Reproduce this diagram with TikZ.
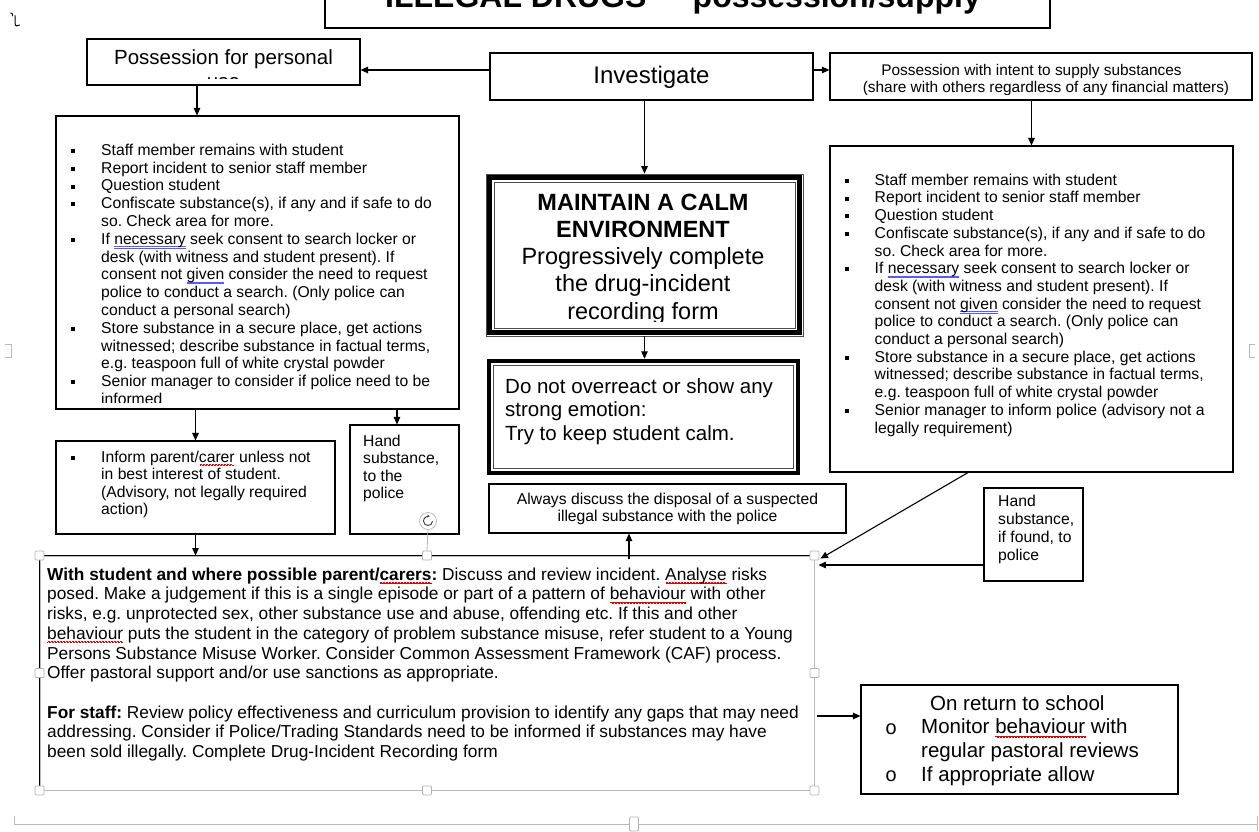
\documentclass[tikz,border=0pt]{standalone}
\usepackage{fontspec}
\setmainfont{Liberation Sans}
\newfontfamily\monofont{Liberation Mono}
\usetikzlibrary{arrows.meta}
\setlength{\unitlength}{1pt}
\frenchspacing

% spell-check style underlines
\newsavebox\ulbox
\newcommand\wavepiece{\begin{picture}(3,0)\linethickness{0.5pt}\qbezier(0,-2.6)(0.75,-1.4)(1.5,-2.6)\qbezier(1.5,-2.6)(2.25,-3.8)(3,-2.6)\end{picture}}
\newcommand\wavy[1]{\sbox\ulbox{#1}\rlap{\textcolor{red!90!black}{\hbox to \wd\ulbox{\cleaders\hbox{\wavepiece}\hfill}}}\usebox\ulbox}
\newcommand\dbl[1]{\sbox\ulbox{#1}\rlap{\textcolor{blue!65!white}{\rule[-2.4pt]{\wd\ulbox}{0.45pt}}}\rlap{\textcolor{blue!65!white}{\rule[-3.9pt]{\wd\ulbox}{0.45pt}}}\usebox\ulbox}

% list helpers
\newcommand\sqitem{\makebox[30pt][l]{\rule[2.3pt]{4pt}{4pt}}}
\newcommand\indline{\hspace*{30pt}}
\newcommand\topstrut{\rule{0pt}{1em}}
\newcommand\ringitem{\makebox[36pt][l]{\raisebox{-0.5pt}{\monofont\fontsize{20}{20}\selectfont o}}}

\newcommand\commonsteps{%
\topstrut\sqitem Staff member remains with student\\
\sqitem Report incident to senior staff member\\
\sqitem Question student\\
\sqitem Confiscate substance(s), if any and if safe to do\\
\indline so. Check area for more.\\
\sqitem If \dbl{necessary} seek consent to search locker or\\
\indline desk (with witness and student present). If\\
\indline consent not \dbl{given} consider the need to request\\
\indline police to conduct a search. (Only police can\\
\indline conduct a personal search)\\
\sqitem Store substance in a secure place, get actions\\
\indline witnessed; describe substance in factual terms,\\
\indline e.g. teaspoon full of white crystal powder\\}

\begin{document}
\begin{tikzpicture}[x=1pt, y=-1pt,
  box/.style={draw=black, line width=1.1pt, inner sep=0pt},
  arr/.style={line width=1.1pt, -{Triangle[length=7.5pt,width=6.5pt]}},
  txt/.style={inner sep=0pt, anchor=north west, align=left},
  handle/.style={draw=gray!60, fill=white, line width=0.7pt, minimum size=9pt, inner sep=0pt, rounded corners=1pt},
  frame/.style={draw=gray!55, line width=0.9pt}]
\useasboundingbox (0,0) rectangle (1259,831);

% heading
\node[box, minimum width=725, minimum height=48] (title) at (687.5,4) {};
\node[anchor=base, inner sep=0pt, font=\bfseries\fontsize{32}{38}\selectfont] (titletext) at (683,7.5) {ILLEGAL DRUGS \,–\, possession/supply};

% stray anchor mark
\draw[line width=0.9pt, line cap=round] (10.5,13) .. controls (12,12.5) and (13,14) .. (12.5,16);
\draw[line width=1pt, line cap=round] (15,15.5) -- (15,23) .. controls (15,26.5) and (17.5,26.5) .. (19.5,25);

% top row
\node[box, minimum width=273, minimum height=46] (personal) at (223.5,62) {};
\begin{scope}
  \clip (personal.north west) rectangle ([yshift=7pt]personal.south east);
  \node[anchor=north, align=center, inner sep=0pt, font=\fontsize{20.5}{24.5}\selectfont] (personaltext) at (223.5,43.5) {\topstrut Possession for personal\\use};
\end{scope}

\node[box, minimum width=323, minimum height=47] (invest) at (651.5,76.5) {};
\node[anchor=base, inner sep=0pt, font=\fontsize{24}{28}\selectfont] (investtext) at (651.5,83) {Investigate};

\node[box, minimum width=422, minimum height=47] (intent) at (1041,76.5) {};
\begin{scope}
  \clip (intent.north west) rectangle ([yshift=6pt]intent.south east);
  \node[anchor=base, inner sep=0pt, font=\fontsize{15.4}{18}\selectfont] (intent1) at (1031.5,75) {Possession with intent to supply substances};
  \node[anchor=base, inner sep=0pt, font=\fontsize{15.4}{18}\selectfont] (intent2) at (1046,92) {(share with others regardless of any financial matters)};
\end{scope}

% left column
\node[box, minimum width=403, minimum height=293] (leftbox) at (257.5,262.5) {};
\begin{scope}
  \clip (leftbox.north west) rectangle ([yshift=7pt]leftbox.south east);
  \node[txt, font=\fontsize{15.7}{17.8}\selectfont] (lefttext) at (71,139.3) {\commonsteps
\sqitem Senior manager to consider if police need to be\\
\indline informed};
\end{scope}

\node[box, minimum width=279, minimum height=93] (inform) at (195.5,487.5) {};
\node[txt, font=\fontsize{15.7}{17.5}\selectfont] (informtext) at (71,446.3) {\topstrut\sqitem Inform parent/\wavy{carer} unless not\\
\indline in best interest of student.\\
\indline (Advisory, not legally required\\
\indline action)};

\node[box, minimum width=109, minimum height=109] (handL) at (404.5,479.5) {};
\node[txt, font=\fontsize{15.7}{17.5}\selectfont] (handLtext) at (363,430.3) {\topstrut Hand\\substance,\\to the\\police};

% right column
\node[box, minimum width=403, minimum height=326] (rightbox) at (1031.5,309) {};
\node[txt, font=\fontsize{15.7}{17.7}\selectfont] (righttext) at (844.5,169.3) {\commonsteps
\sqitem Senior manager to inform police (advisory not a\\
\indline legally requirement)};

\node[box, minimum width=99, minimum height=93] (handR) at (1033.5,534.5) {};
\node[txt, font=\fontsize{15.7}{18}\selectfont] (handRtext) at (998,490.3) {\topstrut Hand\\substance,\\if found, to\\police};

% centre column
\node[draw=black!70, line width=0.7pt, minimum width=317, minimum height=162, inner sep=0pt] (maintain) at (644.5,255) {};
\draw[line width=4.5pt] ([xshift=4pt,yshift=-4pt]maintain.north west) rectangle ([xshift=-4pt,yshift=4pt]maintain.south east);
\draw[black!70, line width=0.7pt] ([xshift=8.5pt,yshift=-8.5pt]maintain.north west) rectangle ([xshift=-8.5pt,yshift=8.5pt]maintain.south east);
\begin{scope}
  \clip ([xshift=9pt,yshift=-9pt]maintain.north west) rectangle ([xshift=-9pt,yshift=15pt]maintain.south east);
  \node[anchor=north, align=center, inner sep=0pt, font=\fontsize{23.5}{27.2}\selectfont] (maintaintext) at (643,186.5) {\topstrut\textbf{MAINTAIN A CALM}\\\textbf{ENVIRONMENT}\\Progressively complete\\the drug-incident\\recording form};
\end{scope}

\node[minimum width=313, minimum height=116, inner sep=0pt] (donot) at (643.5,417) {};
\draw[line width=4.5pt] ([xshift=2.2pt,yshift=-2.2pt]donot.north west) rectangle ([xshift=-2.2pt,yshift=2.2pt]donot.south east);
\draw[black!70, line width=0.7pt] ([xshift=7pt,yshift=-7pt]donot.north west) rectangle ([xshift=-7pt,yshift=7pt]donot.south east);
\node[txt, font=\fontsize{20.5}{23.5}\selectfont] (donottext) at (505,372.5) {\topstrut Do not overreact or show any\\strong emotion:\\Try to keep student calm.};

\node[box, minimum width=357, minimum height=49] (always) at (667.5,508.5) {};
\node[anchor=north, align=center, inner sep=0pt, font=\fontsize{15.7}{17}\selectfont] (alwaystext) at (667.5,488.3) {\topstrut Always discuss the disposal of a suspected\\illegal substance with the police};

% review box (shown selected)
\node[frame, minimum width=774, minimum height=234, inner sep=0pt] (big) at (427,673) {};
\draw[line width=1.1pt] (big.south west) -- (big.north west) -- (big.north east);
\node[txt, font=\fontsize{17.3}{19.7}\selectfont] (bigtext) at (47,562.7) {\topstrut\textbf{With student and where possible parent/\wavy{carers}:} Discuss and review incident. \wavy{Analyse} risks\\
posed. Make a judgement if this is a single episode or part of a pattern of \wavy{behaviour} with other\\
risks, e.g. unprotected sex, other substance use and abuse, offending etc. If this and other\\
\wavy{behaviour} puts the student in the category of problem substance misuse, refer student to a Young\\
Persons Substance Misuse Worker. Consider Common Assessment Framework (CAF) process.\\
Offer pastoral support and/or use sanctions as appropriate.\\
\mbox{}\\
\textbf{For staff:} Review policy effectiveness and curriculum provision to identify any gaps that may need\\
addressing. Consider if Police/Trading Standards need to be informed if substances may have\\
been sold illegally. Complete Drug-Incident Recording form};

\node[box, minimum width=317, minimum height=109] (onreturn) at (1019.5,739.5) {};
\node[txt, font=\fontsize{20.5}{23.7}\selectfont] (onreturntext) at (885,689.5) {\topstrut\hspace*{45pt}On return to school\\
\ringitem Monitor \wavy{behaviour} with\\
\hspace*{36pt}regular pastoral reviews\\
\ringitem If appropriate allow};

% connectors
\coordinate (personalfoot) at ([xshift=-26.5pt]personal.south);
\coordinate (handLtop) at ([xshift=-7.5pt]handL.north);
\coordinate (alwaysfoot) at ([xshift=-38.5pt]always.south);
\coordinate (rightfoot) at ([xshift=-63.5pt]rightbox.south);
\coordinate (bigcorner) at ([xshift=6pt,yshift=-3pt]big.north east);
\coordinate (handRport) at ([yshift=-30.5pt]handR.west);
\coordinate (bigport) at (handRport -| big.east);
\coordinate (bigout) at ([yshift=-43pt]big.east);

\draw[arr] ([yshift=6.5pt]invest.west) -- ([yshift=-8pt]personal.east);
\draw[arr] ([yshift=6.5pt]invest.east) -- ([yshift=6.5pt]intent.west);
\draw[arr] (personalfoot) -- (personalfoot |- leftbox.north);
\draw[arr] (intent.south -| rightbox.north) -- (rightbox.north);
\draw[arr] (invest.south -| maintain.north) -- (maintain.north);
\draw[arr] (maintain.south) -- (maintain.south |- donot.north);
\draw[arr] (leftbox.south -| inform.north) -- (inform.north);
\draw[arr] (handLtop |- leftbox.south) -- (handLtop);
\draw[arr] (inform.south) -- (inform.south |- big.north);
\draw[arr] ([yshift=-3pt]alwaysfoot |- big.north) -- (alwaysfoot);
\draw[arr] (rightfoot) -- (bigcorner);
\draw[arr] (handRport) -- ([xshift=4pt]bigport);
\draw[arr] ([xshift=3pt]bigout) -- (bigout -| onreturn.west);

% selection handles of the review box
\foreach \a [count=\i] in {north west, north, north east, west, east, south west, south, south east}
  \node[handle] (hdl\i) at (big.\a) {};
\node[circle, draw=gray!60, fill=white, line width=0.7pt, minimum size=17pt, inner sep=0pt] (rot) at (428,521) {};
\draw[gray!60, line width=0.8pt] (rot.south) -- (hdl2.north);
\draw[gray!50!black, line width=0.9pt, -{Triangle[length=2.2pt,width=2.8pt]}] ([xshift=4.5pt]rot.center) arc[start angle=0, end angle=290, radius=4.5];

% outer page frame
\draw[frame] (5,344) -- (11,344) -- (11,357) -- (5,357);
\draw[frame] (1255,344) -- (1249,344) -- (1249,357) -- (1255,357);
\draw[frame] (14,824) -- (1257,824);
\draw[frame] (14,816) -- (14,824);
\draw[frame] (1257,816) -- (1257,831);
\node[handle, minimum width=9pt, minimum height=14pt] (pagehdl) at (634,824) {};
\end{tikzpicture}
\end{document}
